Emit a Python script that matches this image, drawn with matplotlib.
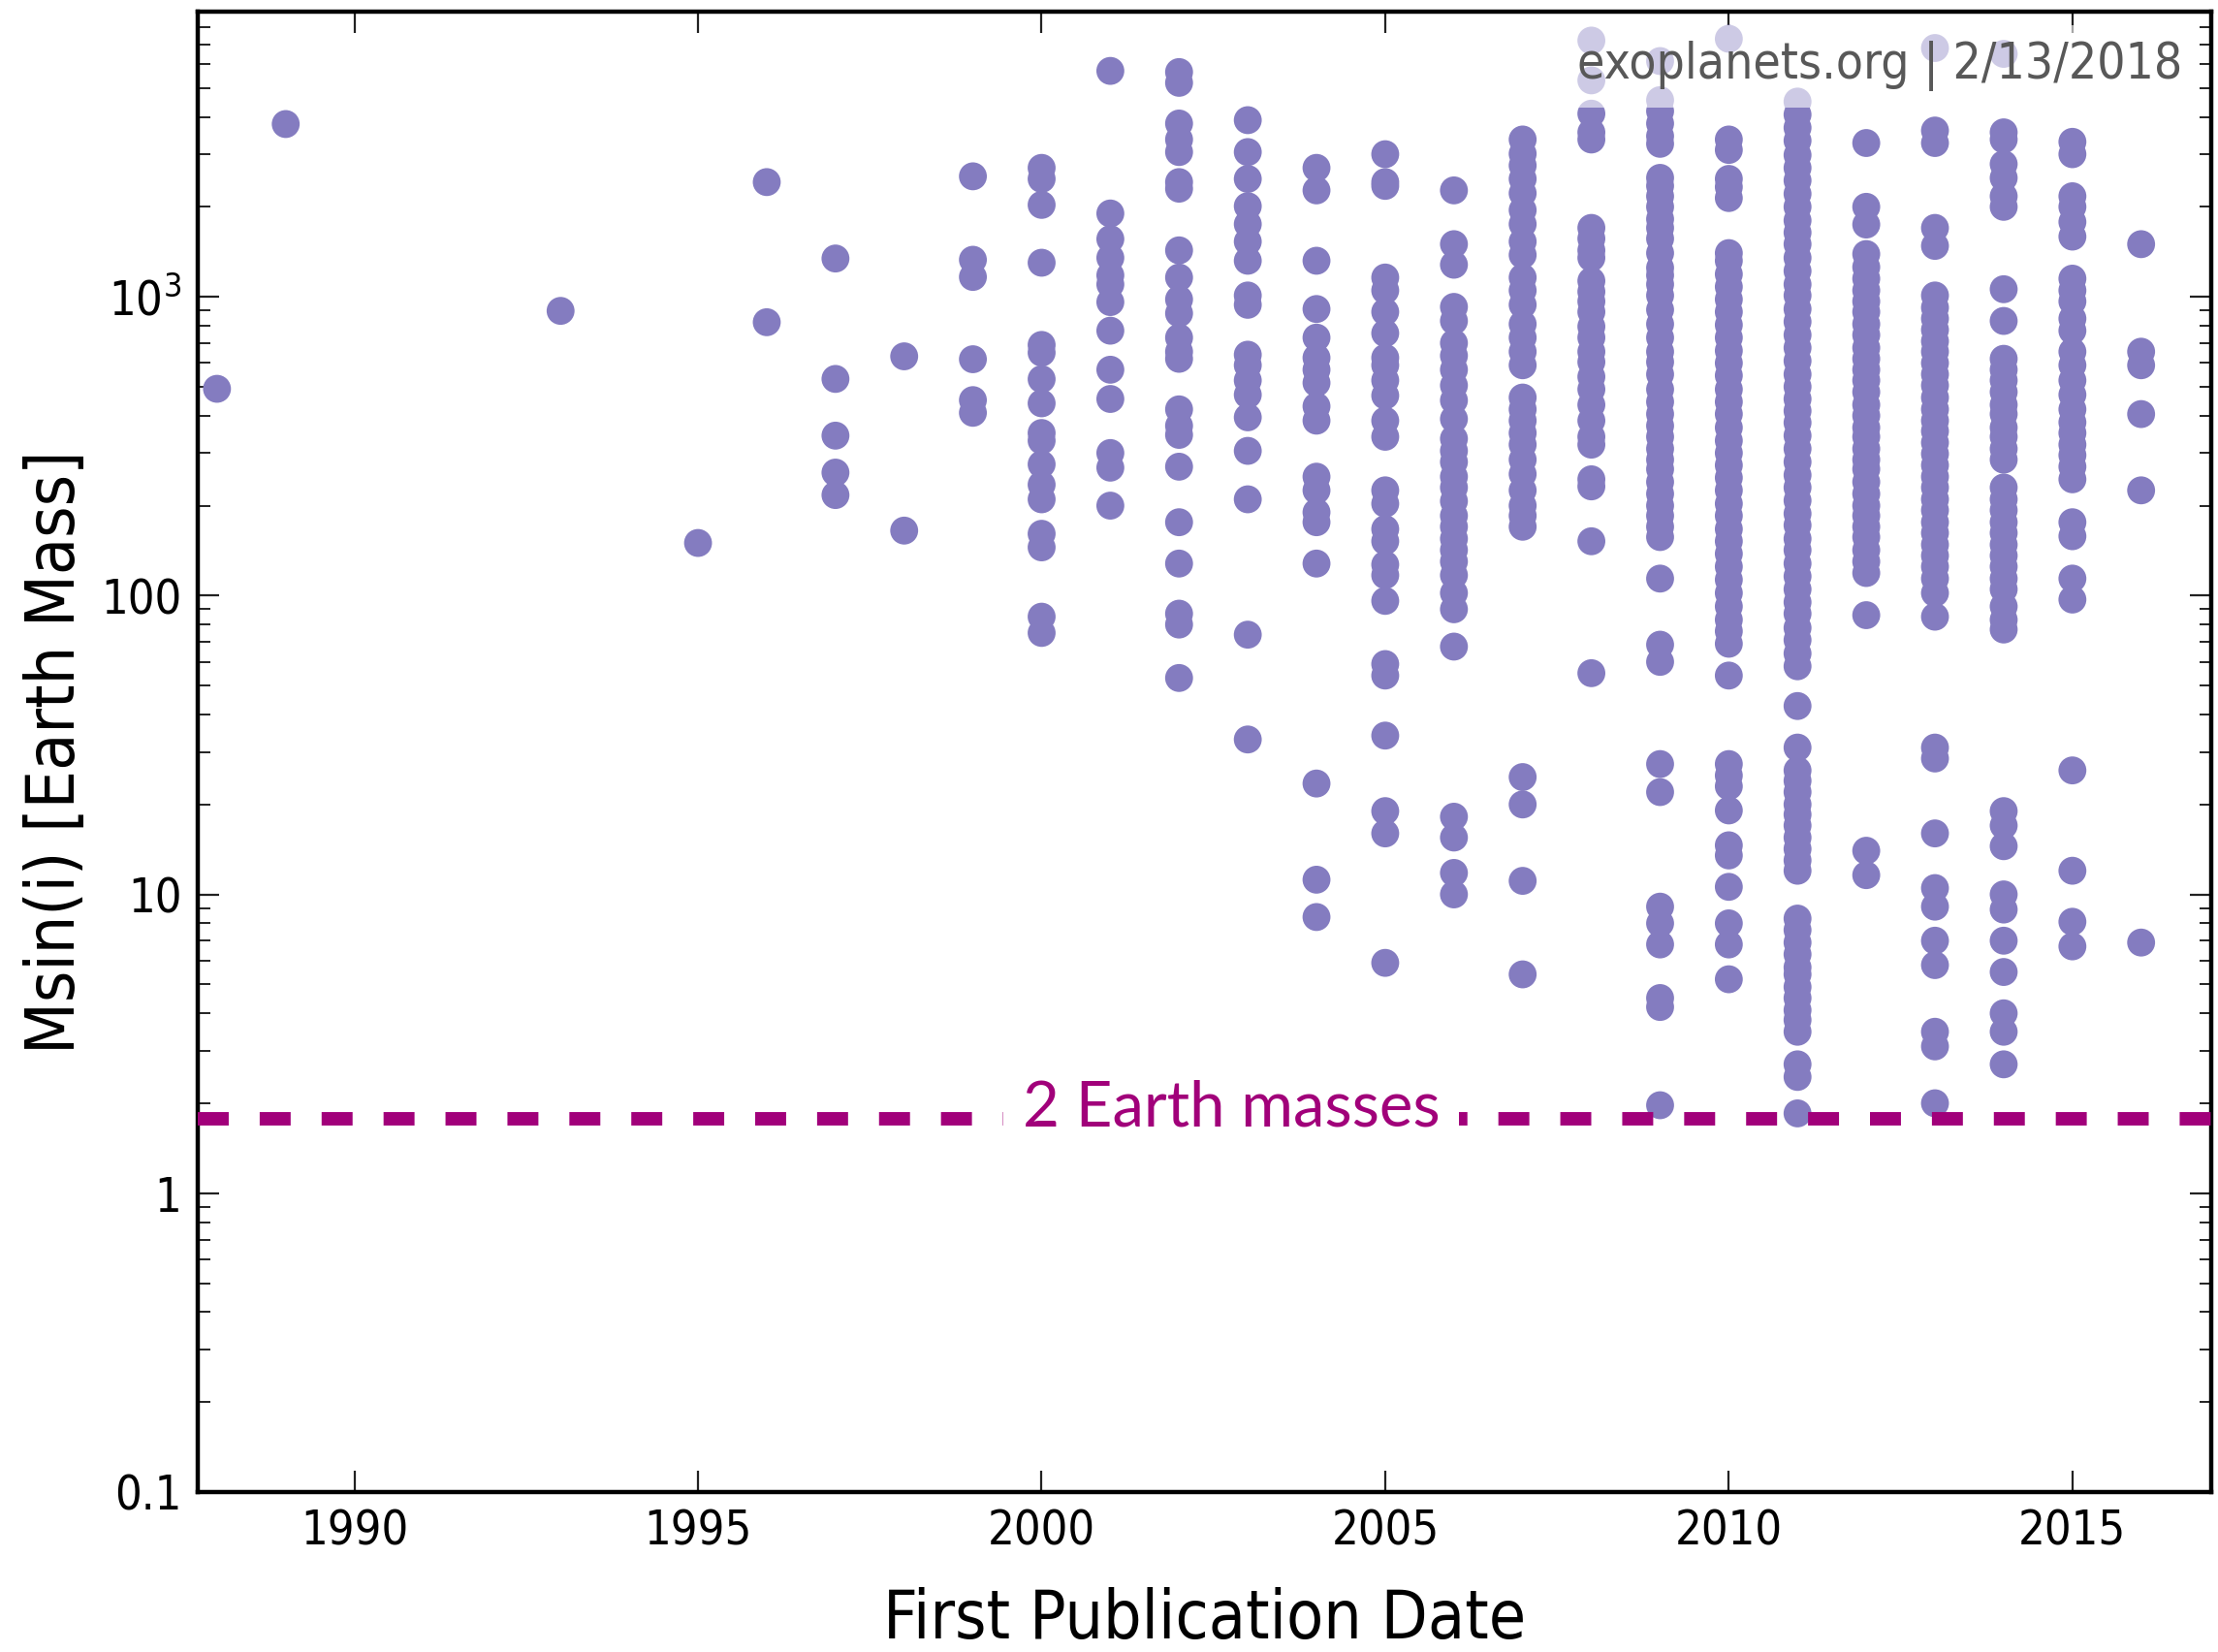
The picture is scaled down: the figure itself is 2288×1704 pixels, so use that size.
import matplotlib
matplotlib.use("Agg")
import matplotlib.pyplot as plt
import numpy as np

plt.rcParams['font.family'] = ['DejaVu Sans']
plt.rcParams['font.stretch'] = 'condensed'
plt.rcParams['mathtext.default'] = 'regular'

# ---- data: Msin(i) [Earth masses] per first publication year ----
m_1988 = [492]
m_1989 = [3785]
m_1993 = [897]
m_1995 = [150]
m_1996 = [2420, 822]
m_1997 = [1343, 531, 343, 258, 217]
m_1998 = [632, 165]
m_1999 = [2530, 1330, 1165, 618, 451, 409]
m_2000 = [2700, 2480, 2030, 1300, 690, 650, 530, 440, 350, 330, 275, 235, 210,
          161, 145, 85, 75]
m_2001 = [5700, 1900, 1560, 1350, 1180, 1100, 960, 770, 570, 455, 300, 268, 200]
m_2002 = [5650, 5200, 3800, 3360, 3050, 2420, 2300, 1430, 1160, 980, 880, 730,
          655, 620, 420, 370, 345, 270, 176, 128, 87, 80, 53]
m_2003 = [3900, 3050, 2480, 2010, 1750, 1530, 1320, 1010, 940, 640, 590, 525,
          470, 395, 305, 210, 74, 33]
m_2004 = [2700, 2270, 1320, 910, 730, 625, 570, 515, 430, 385, 250, 225, 190,
          176, 128, 23.5, 11.2, 8.4]
m_2005 = [3000, 2420, 2350, 1160, 1050, 890, 755, 625, 590, 525, 467, 385, 340,
          225, 203, 167, 152, 127, 117, 96, 59, 54, 34, 19, 16, 5.9]
m_2006 = [2270, 1500, 1280, 925, 830, 700, 635, 570, 505, 450, 390, 335, 305,
          280, 250, 230, 207, 185, 170, 155, 142, 130, 117, 102, 90, 67.5,
          18.2, 15.5, 11.8, 10]
m_2007 = [3360, 3010, 2750, 2480, 2220, 1950, 1750, 1530, 1380, 1160, 1050, 940,
          810, 730, 655, 590, 460, 420, 385, 350, 320, 285, 255, 225, 200, 185,
          170, 24.7, 20, 11.1, 5.4]
m_2008 = [7200, 5300, 4100, 3550, 3360, 1700, 1565, 1430, 1350, 1130, 1040, 965,
          890, 795, 730, 655, 605, 540, 490, 435, 385, 340, 320, 245, 232, 152,
          55]
m_2009 = [6150, 4550, 4180, 3800, 3450, 3250, 2500, 2350, 2170, 2000, 1820,
          1700, 1565, 1400, 1250, 1180, 1100, 1010, 905, 810, 730, 655, 605,
          550, 490, 445, 405, 370, 340, 310, 285, 265, 240, 219, 200, 185, 170,
          157, 114, 68.5, 60, 27.3, 22, 9.1, 8.0, 6.8, 4.5, 4.2, 1.97]
m_2010 = [7300, 3360, 3100, 2480, 2330, 2140, 1400, 1320, 1190, 1080, 980, 890,
          805, 730, 660, 600, 545, 490, 445, 405, 365, 330, 300, 273, 248, 225,
          203, 185, 167, 152, 138, 125, 113, 102, 92, 83, 76, 69, 54, 27.3, 25,
          23, 19.1, 14.6, 13.5, 10.6, 8.0, 6.8, 5.2]
m_2011 = [4500, 4070, 3680, 3330, 2980, 2700, 2450, 2210, 2000, 1800, 1640, 1500,
          1350, 1220, 1100, 1010, 910, 825, 745, 675, 610, 550, 500, 455, 415,
          379, 343, 310, 280, 253, 230, 208, 188, 172, 155, 142, 128, 116, 105,
          95, 87, 78, 71, 64, 58, 42.7, 31, 26, 24, 22, 20, 18.5, 17, 15.5,
          14.2, 13, 12, 8.3, 7.6, 6.9, 6.3, 5.7, 5.4, 4.9, 4.5, 4.1, 3.8, 3.47,
          2.7, 2.45, 1.85]
m_2012 = [3270, 2000, 1745, 1390, 1257, 1150, 1050, 965, 890, 810, 745, 675, 620,
          570, 525, 480, 435, 400, 365, 340, 310, 285, 265, 240, 219, 200, 185,
          170, 157, 142, 130, 119, 86, 14, 11.6]
m_2013 = [6800, 3600, 3270, 1700, 1480, 1010, 920, 845, 775, 710, 655, 600, 550,
          505, 460, 420, 385, 355, 325, 298, 273, 250, 230, 210, 193, 176, 162,
          148, 136, 125, 114, 102, 85, 31, 28.5, 16, 10.5, 9.1, 7.0, 5.8, 3.47,
          3.1, 2.0]
m_2014 = [6500, 3550, 3360, 2780, 2500, 2170, 2000, 1060, 830, 620, 570, 525,
          480, 435, 405, 365, 340, 310, 285, 230, 210, 193, 176, 162, 148, 136,
          125, 114, 105, 92, 83, 77, 19, 17, 14.5, 10, 8.9, 7.0, 5.5, 4.0, 3.47,
          2.7]
m_2015 = [3300, 3000, 2170, 2000, 1780, 1590, 1150, 1050, 965, 845, 770, 655,
          590, 525, 470, 420, 380, 350, 320, 295, 270, 245, 176, 158, 114, 97,
          26, 12, 8.1, 6.7]
m_2016 = [1500, 655, 590, 405, 225, 6.9]

years = [1988, 1989, 1993, 1995, 1996, 1997, 1998, 1999, 2000, 2001, 2002, 2003,
         2004, 2005, 2006, 2007, 2008, 2009, 2010, 2011, 2012, 2013, 2014, 2015,
         2016]
masses = [m_1988, m_1989, m_1993, m_1995, m_1996, m_1997, m_1998, m_1999, m_2000,
          m_2001, m_2002, m_2003, m_2004, m_2005, m_2006, m_2007, m_2008, m_2009,
          m_2010, m_2011, m_2012, m_2013, m_2014, m_2015, m_2016]

threshold_mass = 1.78
threshold_label = "2 Earth masses"
watermark = "exoplanets.org | 2/13/2018"

x_ticks = [1990, 1995, 2000, 2005, 2010, 2015]
y_ticks = [0.1, 1, 10, 100, 1000]
y_ticklabels = ['0.1', '1', '10', '100', '$10^3$']

# ---- figure ----
fig = plt.figure(figsize=(22.88, 17.04), dpi=100)
ax = fig.add_axes([204 / 2288, 1 - 1539 / 1704, (2281 - 204) / 2288, (1539 - 12) / 1704])

xs = np.concatenate([[y] * len(m) for y, m in zip(years, masses)])
ys = np.concatenate([np.asarray(m, dtype=float) for m in masses])
ax.scatter(xs, ys, s=430, color='#847CC0', edgecolors='none', zorder=2)

ax.axhline(threshold_mass, color='#A1007A', lw=10, ls=(0, (2.3, 2.3)), zorder=3)
ax.text(2002.76, 1.93, threshold_label, color='#A1007A', fontsize=47,
        family='Lato', fontstretch='normal', ha='center', va='center', zorder=4,
        bbox=dict(facecolor='white', edgecolor='none', pad=14))

ax.text(0.9855, 0.963, watermark, transform=ax.transAxes, ha='right', va='center',
        fontsize=37, color='#585858', zorder=5,
        bbox=dict(facecolor='white', edgecolor='none', alpha=0.6, pad=12))

ax.set_yscale('log')
ax.set_xlim(1987.72, 2017.02)
ax.set_ylim(0.1, 9000)
ax.set_xticks(x_ticks)
ax.set_xticklabels([str(t) for t in x_ticks])
ax.set_yticks(y_ticks)
ax.set_yticklabels(y_ticklabels)
ax.xaxis.set_minor_locator(matplotlib.ticker.NullLocator())
ax.yaxis.set_minor_locator(matplotlib.ticker.LogLocator(base=10, subs=np.arange(2, 10)))
ax.yaxis.set_minor_formatter(matplotlib.ticker.NullFormatter())

ax.tick_params(which='both', direction='in', top=True, right=True, colors='#222222')
ax.tick_params(which='major', length=16, width=1.6, labelsize=35, pad=12, labelcolor='black')
ax.tick_params(which='minor', length=9, width=1.4)
for sp in ax.spines.values():
    sp.set_linewidth(3.2)
    sp.set_color('black')

ax.set_xlabel('First Publication Date', fontsize=50, color='black')
ax.set_ylabel('Msin(i) [Earth Mass]', fontsize=50, color='black')
ax.xaxis.label.set_va('center')
ax.yaxis.label.set_va('center')
ax.xaxis.set_label_coords(0.5, -0.0864)
ax.yaxis.set_label_coords(-0.0703, 0.5)

fig.savefig('out.png', dpi=100)
